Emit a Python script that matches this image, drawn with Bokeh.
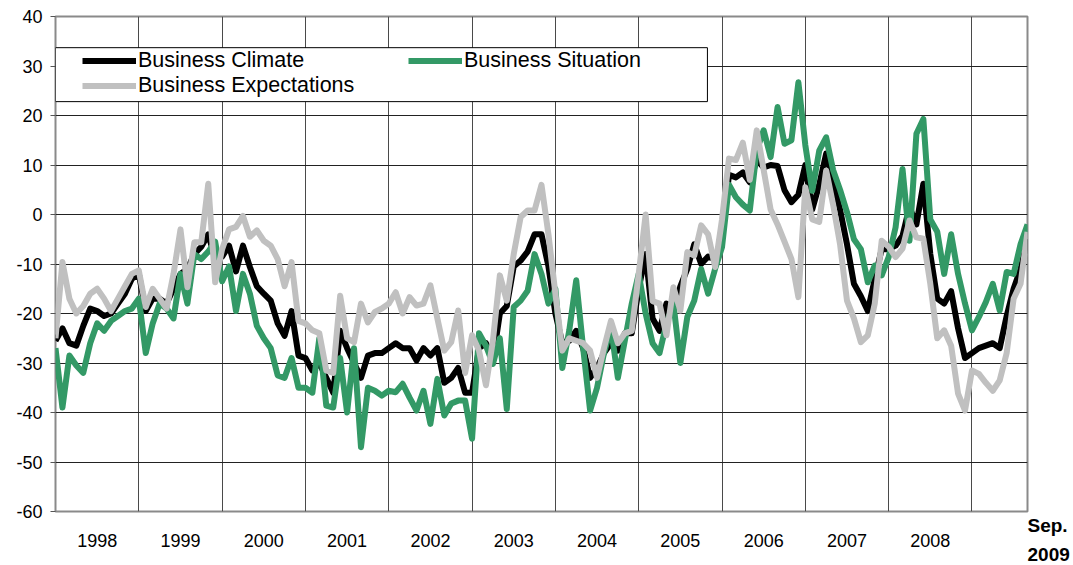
from bokeh.plotting import figure
from bokeh.models import (FixedTicker, Legend, LegendItem, BoxAnnotation,
                          Range1d, ColumnDataSource, LinearAxis)
from bokeh.embed import file_html
from bokeh.resources import INLINE

# ---------------- data (monthly, Jan 1998 .. Sep 2009) ----------------
years = ["1998", "1999", "2000", "2001", "2002", "2003",
         "2004", "2005", "2006", "2007", "2008"]
last_label = ["Sep.", "2009"]

climate = [
    -25.5, -23, -26, -26.5, -22.5, -19, -19.5, -20.5, -20, -18, -16, -13,      # 1998
    -12, -19.5, -17, -17, -18, -15, -12, -11, -8, -6.5, -4, -9,               # 1999
    -8.5, -6.3, -11.5, -6.3, -10.6, -14.5, -16, -17.4, -22, -24.5, -19.5, -28.5,  # 2000
    -29, -31.5, -30, -33, -36, -23.5, -27, -30, -33, -28.5, -28, -28,         # 2001
    -27, -26, -27, -27, -29.5, -27, -28.5, -27, -34, -33, -31, -36,           # 2002
    -36, -27, -26, -29.5, -20, -18.5, -10.5, -9.3, -7.5, -4, -4, -10.5,       # 2003
    -20, -26, -25.5, -23.5, -27, -33, -31, -28, -26, -27.5, -24, -24,         # 2004
    -15, -8, -21, -23.5, -18, -19.5, -14.5, -11, -6, -10, -8.5, -9,           # 2005
    -5, 8, 7.5, 8.5, 6.5, 11, 9.5, 10, 9.8, 4.9, 2.5, 4,                      # 2006
    10, 1, 6, 12.3, 6.5, 1, -6, -14, -16.5, -19.5, -13, -7,                   # 2007
    -7, -6.3, -4.3, 1.5, -2, 6.2, -8, -17, -18, -15.5, -23, -29,              # 2008
    -28, -27, -26.5, -26, -27, -20.5, -15, -11, -5,                           # 2009
]

situation = [
    -27, -39, -28.5, -30.5, -32, -26, -22, -23.5, -21.5, -20.5, -19.5, -19,   # 1998
    -17, -28, -22, -18, -19, -21, -12, -18, -8, -9, -7.5, -5.5,               # 1999
    -13.5, -10.5, -19.5, -12, -16, -22.5, -25, -27, -32.5, -33, -29, -35,     # 2000
    -35, -36, -25, -38.6, -39, -29, -40, -27, -47, -35, -35.6, -36.6,         # 2001
    -35.6, -35.9, -34.2, -37, -39.6, -35.6, -42.3, -33.2, -40.6, -38.2, -37.6, -37.6,  # 2002
    -45.3, -24, -26.5, -30.2, -25, -39.3, -18.7, -17.4, -15.4, -8, -12, -18,  # 2003
    -15, -31, -23.4, -13.3, -27, -39.6, -35, -28, -22.8, -33, -25.5, -18,     # 2004
    -12, -20, -26, -28, -22, -18, -30, -20.7, -17.4, -11, -16, -11,           # 2005
    -6.6, 6, 3.5, 2, 0.8, 13, 17, 11.6, 21.7, 14.3, 15, 26.7,                 # 2006
    14, 4.8, 12.9, 15.6, 9, 5, 0.5, -5, -7, -13.7, -10.3, -12.3,              # 2007
    -8.6, -2.6, 9.2, -5.3, 16.3, 19.3, -1, -3.5, -12, -4, -12, -18,           # 2008
    -23.4, -20.7, -17.7, -14, -19.4, -11.6, -12, -6, -2,                      # 2009
]

expectations = [
    -25, -9.6, -17, -20, -18.5, -16, -15, -17, -19.5, -17, -14.5, -12,        # 1998
    -11.3, -18.7, -15, -17, -19, -12, -3, -14.7, -5.6, -5.6, 6.2, -13.7,      # 1999
    -7, -3, -2.5, -0.3, -4.5, -3.2, -5.3, -6.3, -9, -14.5, -9.6, -21.5,       # 2000
    -22, -23.4, -24, -31.5, -32, -16.4, -25, -25.8, -18, -21.8, -19.7, -19,   # 2001
    -18, -15.7, -20, -16.7, -18.4, -18, -14.3, -21, -27.5, -25.8, -19.4, -32, # 2002
    -24.4, -27.5, -34.5, -25.5, -12.3, -17.4, -8, -0.5, 0.8, 0.8, 6, -4,      # 2003
    -16, -27.5, -25, -25.5, -26, -27.5, -33, -27, -21.5, -26, -24, -23.5,     # 2004
    -12, 0, -17.5, -18, -24.4, -14.7, -19.4, -7.6, -8.3, -2.2, -4, -10.6,     # 2005
    -1, 11.3, 11, 14.5, 7, 17, 9, 1, -2, -5.5, -9, -16.7,                     # 2006
    5.5, -1, -1.5, 8.9, 2, -6, -17.4, -21, -25.8, -24.4, -18, -5.3,           # 2007
    -6.5, -8.6, -6.9, -1.2, -4.6, -4.9, -14, -25, -23.4, -26.5, -36.2, -39.6, # 2008
    -31.5, -32.2, -34, -35.6, -33.5, -28, -17, -14, -3.5,                     # 2009
]

months = list(range(len(climate)))  # month index, 0 = Jan 1998
y_ticks = list(range(-60, 41, 10))

# ---------------- figure ----------------
FONT = "Liberation Sans"
n = len(months)
p = figure(frame_width=972, frame_height=495,
           x_range=Range1d(0, n - 1), y_range=Range1d(-60, 40),
           output_backend="svg", toolbar_location=None,
           min_border_left=55, min_border_right=46,
           min_border_top=16, min_border_bottom=54)
p.background_fill_color = "white"
p.border_fill_color = "white"
p.outline_line_color = "#8a8a8a"
p.outline_line_width = 2

# grids
p.ygrid.ticker = FixedTicker(ticks=y_ticks[1:-1])
p.ygrid.grid_line_color = "#222222"
p.ygrid.grid_line_width = 1
p.xgrid.ticker = FixedTicker(ticks=[12 * k for k in range(1, len(years) + 1)])
p.xgrid.grid_line_color = "#4a4a4a"
p.xgrid.grid_line_width = 1

# y axis
p.yaxis.ticker = FixedTicker(ticks=y_ticks)
p.yaxis.major_label_overrides = {v: str(v) for v in y_ticks}
p.yaxis.axis_line_color = None
p.yaxis.major_tick_out = 5
p.yaxis.major_tick_in = 0
p.yaxis.major_tick_line_color = "#555555"
p.yaxis.minor_tick_line_color = None
p.yaxis.major_label_standoff = 8
p.yaxis.major_label_text_font = FONT
p.yaxis.major_label_text_font_size = "18px"
p.yaxis.major_label_text_color = "black"

# x axis: year labels centred in each year
year_centres = [12 * k + 6 for k in range(len(years))]
p.xaxis.ticker = FixedTicker(ticks=year_centres)
p.xaxis.major_label_overrides = {c: y for c, y in zip(year_centres, years)}
p.xaxis.axis_line_color = None
p.xaxis.major_tick_line_color = None
p.xaxis.minor_tick_line_color = None
p.xaxis.major_tick_out = 0
p.xaxis.major_tick_in = 0
p.xaxis.major_label_standoff = 22
p.xaxis.major_label_text_font = FONT
p.xaxis.major_label_text_font_size = "18px"
p.xaxis.major_label_text_color = "black"

# "Sep. 2009" to the right of the last month, below the plot area
sep_tick = -60
blank = "\u00a0"
sep_axis = LinearAxis(ticker=FixedTicker(ticks=[sep_tick]),
                      major_label_overrides={sep_tick: "\n".join([blank] * 2 + last_label)},
                      axis_line_color=None, major_tick_line_color=None,
                      minor_tick_line_color=None, major_tick_out=0, major_tick_in=0,
                      major_label_standoff=0, major_label_text_font=FONT,
                      major_label_text_font_size="19px",
                      major_label_text_font_style="bold",
                      major_label_text_line_height=1.37,
                      major_label_text_color="black")
p.add_layout(sep_axis, "right")

src = ColumnDataSource(dict(m=months, c=climate, s=situation, e=expectations))
r_c = p.line("m", "c", source=src, line_color="#000000", line_width=6, line_join="round")
r_s = p.line("m", "s", source=src, line_color="#339966", line_width=6, line_join="round")
r_e = p.line("m", "e", source=src, line_color="#c0c0c0", line_width=6, line_join="round")

# legend box
box = BoxAnnotation(left=0, right=93.9, bottom=22.8, top=33.7,
                    fill_color="white", fill_alpha=1.0,
                    line_color="black", line_width=1, line_alpha=1.0)
p.add_layout(box)

leg_common = dict(background_fill_alpha=0, border_line_alpha=0, padding=0,
                  margin=0, spacing=0, label_standoff=2, glyph_width=54,
                  glyph_height=25, label_height=25,
                  label_text_font=FONT, label_text_font_size="21.5px",
                  label_text_color="black", orientation="vertical")
leg1 = Legend(items=[LegendItem(label="Business Climate", renderers=[r_c]),
                     LegendItem(label="Business Expectations", renderers=[r_e])],
              location=(27, 413), **leg_common)
leg2 = Legend(items=[LegendItem(label="Business Situation", renderers=[r_s])],
              location=(353, 438), **leg_common)
p.add_layout(leg1)
p.add_layout(leg2)

open("out.html", "w").write(file_html(p, INLINE))
